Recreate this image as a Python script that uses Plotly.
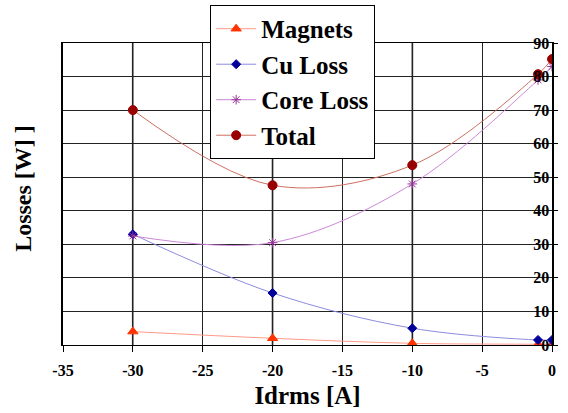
import plotly.graph_objects as go

idrms = [-30, -20, -10, -1, 0]
magnets = [4.0, 2.0, 0.5, 0.2, 0.1]
cu_loss = [33.0, 15.5, 5.0, 1.5, 1.5]
core_loss = [32.5, 30.5, 48.0, 79.0, 83.0]
total = [70.0, 47.6, 53.6, 80.7, 85.2]

x_ticks = [-35, -30, -25, -20, -15, -10, -5, 0]
y_ticks = [0, 10, 20, 30, 40, 50, 60, 70, 80, 90]

SERIF = "Liberation Serif"

series = [
    ("Magnets", magnets, "#FF9A88", "#FF3300", "triangle-up", 9),
    ("Cu Loss", cu_loss, "#8C8CE0", "#000099", "diamond", 7),
    ("Core Loss", core_loss, "#CC88D8", "#993399", "asterisk-open", 8),
    ("Total", total, "#CC7060", "#990000", "circle", 9),
]

fig = go.Figure()

# grey drop lines at the measured current points
for xv in idrms[:3]:
    fig.add_shape(type="line", xref="x", yref="y", x0=xv, x1=xv, y0=0, y1=90,
                  line=dict(color="#777777", width=2), layer="below")

for name, vals, lcol, mcol, sym, size in series:
    fig.add_trace(go.Scatter(
        x=idrms, y=vals, name="<b>" + name + "</b>", mode="lines+markers",
        line=dict(color=lcol, width=1, shape="spline", smoothing=1),
        marker=dict(symbol=sym, size=size, color=mcol,
                    line=dict(color=mcol, width=1)),
    ))

fig.update_layout(
    width=568, height=413,
    margin=dict(l=63, r=16, t=43, b=68, autoexpand=False),
    paper_bgcolor="white", plot_bgcolor="white",
    font=dict(family=SERIF, color="black"),
    showlegend=True,
    legend=dict(
        xref="container", yref="container",
        x=0.37, y=0.988, xanchor="left", yanchor="top",
        bgcolor="white", bordercolor="black", borderwidth=1,
        font=dict(family=SERIF, size=25, color="black"),
        tracegroupgap=0, itemwidth=40,
    ),
)

fig.update_xaxes(
    range=[-35, 0], tickvals=x_ticks, ticktext=["<b>%d</b>" % v for v in x_ticks],
    automargin=False,
    showgrid=True, gridcolor="#222222", gridwidth=1,
    showline=True, linecolor="black", linewidth=1, mirror=True,
    ticks="outside", ticklen=6, tickcolor="black",
    ticklabeloverflow="allow", ticklabelstandoff=5,
    tickfont=dict(family=SERIF, size=16, color="black"),
    title=dict(text="<b>Idrms [A]</b>", font=dict(family=SERIF, size=25), standoff=8),
    zeroline=False,
)

fig.update_yaxes(
    range=[0, 90], tickvals=y_ticks, ticktext=["<b>%d</b>" % v for v in y_ticks],
    automargin=False,
    side="right", ticklabelposition="inside",
    ticklabeloverflow="allow", ticklabelstandoff=3,
    showgrid=True, gridcolor="#222222", gridwidth=1,
    showline=True, linecolor="black", linewidth=2, mirror=True,
    ticks="outside", ticklen=4, tickcolor="black",
    tickfont=dict(family=SERIF, size=16, color="black"),
    zeroline=False,
)

fig.add_annotation(
    text="<b>Losses [W] ]</b>", xref="paper", yref="paper",
    x=-0.082, y=0.52, xanchor="center", yanchor="middle",
    textangle=-90, showarrow=False,
    font=dict(family=SERIF, size=24, color="black"),
)

fig.write_html("out.html")
